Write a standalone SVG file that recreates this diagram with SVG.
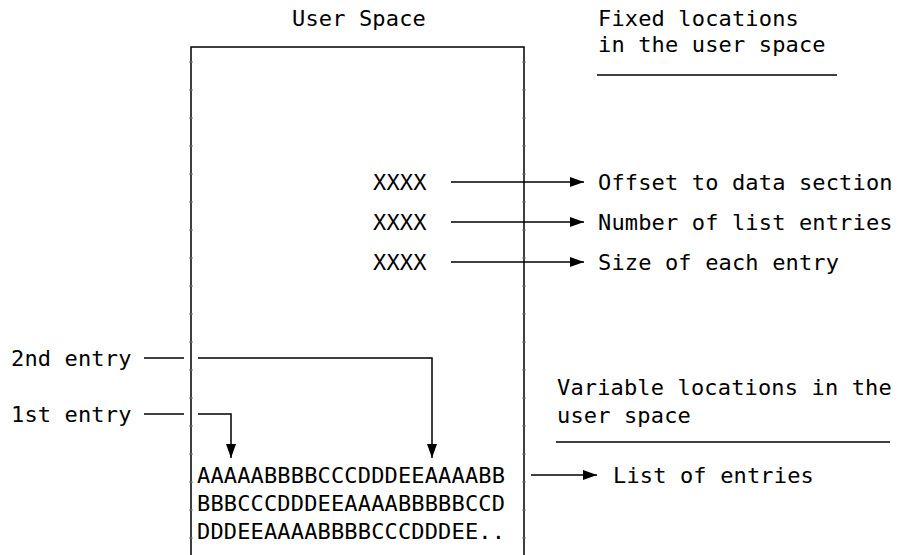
<svg xmlns="http://www.w3.org/2000/svg" width="898" height="555" viewBox="0 0 898 555">
<defs>
<marker id="ah" markerWidth="14" markerHeight="12" refX="14" refY="6" orient="auto" markerUnits="userSpaceOnUse"><path d="M0,1 L14,6 L0,11 Z" fill="#000"/></marker>
<style>
text{font-family:"DejaVu Sans Mono","Liberation Mono",monospace;font-size:22px;letter-spacing:0.15px;fill:#000}
.ln{stroke:#000;stroke-width:1.5;fill:none}
.ar{stroke:#000;stroke-width:1.5;fill:none;marker-end:url(#ah)}
.tk{stroke:#777;stroke-width:1;fill:none}
</style>
</defs>
<rect width="898" height="555" fill="#fff"/>
<g id="user-space">
<path class="ln" d="M191,555 V47 H524 V555"/>
<path class="tk" d="M189,62h4M189,90h4M189,118h4M189,146h4M189,174h4M189,202h4M189,230h4M189,258h4M189,286h4M189,314h4M189,342h4M189,370h4M189,398h4M189,426h4M189,454h4M189,482h4M189,510h4M189,538h4M522,62h4M522,90h4M522,118h4M522,146h4M522,174h4M522,202h4M522,230h4M522,258h4M522,286h4M522,314h4M522,342h4M522,370h4M522,398h4M522,426h4M522,454h4M522,482h4M522,510h4M522,538h4"/>
<text x="292" y="26">User Space</text>
</g>
<g id="fixed-label">
<text x="598" y="26">Fixed locations</text>
<text x="598" y="52">in the user space</text>
<line class="ln" x1="597" y1="75" x2="837" y2="75"/>
</g>
<g id="xxxx1"><text x="373" y="190">XXXX</text><text x="598" y="190">Offset to data section</text></g>
<g id="xxxx2"><text x="373" y="230">XXXX</text><text x="598" y="230">Number of list entries</text></g>
<g id="xxxx3"><text x="373" y="270">XXXX</text><text x="598" y="270">Size of each entry</text></g>
<g id="entry2"><text x="11" y="366">2nd entry</text></g>
<g id="entry1"><text x="11" y="422">1st entry</text></g>
<g id="var-label">
<text x="557" y="395">Variable locations in the</text>
<text x="557" y="423">user space</text>
<line class="ln" x1="556" y1="442" x2="890" y2="442"/>
</g>
<g id="list">
<text x="197" y="483">AAAAABBBBCCCDDDEEAAAABB</text>
<text x="197" y="511">BBBCCCDDDEEAAAABBBBBCCD</text>
<text x="197" y="539">DDDEEAAAABBBBCCCDDDEE..</text>
<text x="613" y="483">List of entries</text>
</g>
<g id="connectors">
<line class="ar" x1="451" y1="182" x2="584" y2="182"/>
<line class="ar" x1="451" y1="222" x2="584" y2="222"/>
<line class="ar" x1="451" y1="262" x2="584" y2="262"/>
<line class="ln" x1="144" y1="358" x2="184" y2="358"/>
<path class="ar" d="M198,358 H432 V458"/>
<line class="ln" x1="144" y1="414" x2="184" y2="414"/>
<path class="ar" d="M198,414 H231 V458"/>
<line class="ar" x1="531" y1="475" x2="597" y2="475"/>
</g>
</svg>
